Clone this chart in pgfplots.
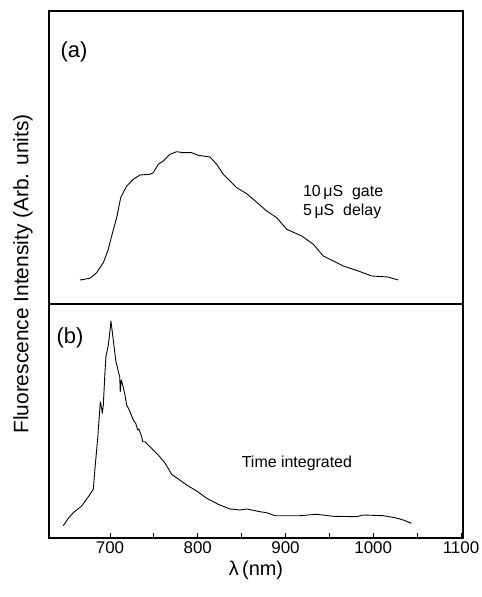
\documentclass[border=0pt]{standalone}
\usepackage{fontspec}
\setmainfont{Liberation Sans}
\usepackage{pgfplots}
\pgfplotsset{compat=1.18}
\begin{document}
\begin{tikzpicture}
\useasboundingbox (0,0) rectangle (482bp,597bp);
\pgfplotsset{
  panel/.style={
    scale only axis, width=414bp,
    xmin=630.5, xmax=1102.3,
    axis line style={line width=1.1pt},
    ytick=\empty,
    /pgf/number format/assume math mode=true,
    tick label style={font=\fontsize{17}{19}\selectfont},
  },
  curve/.style={black, line width=0.9pt, mark=none, line join=round},
}
% panel (b)
\begin{axis}[panel, at={(49bp,59bp)}, anchor=south west, height=234bp,
  ymin=0, ymax=234,
  xtick={700,800,900,1000,1100},
  minor xtick={750,850,950,1050},
  xtick pos=bottom, tick align=inside,
  major tick length=5bp, minor tick length=5bp,
  tick style={line width=0.9pt, black},
  /pgf/number format/set thousands separator={},
  xlabel={λ\,(nm)},
  xlabel style={font=\fontsize{20}{22}\selectfont, yshift=-1bp},
]
\addplot[curve] table {
646.8 12.3
652.5 19.7
658.2 25.3
667.7 32
674.1 39.7
681.0 48.7
682.9 69.7
686.0 99.7
687.5 118
689.0 136.3
690.5 129.7
691.2 124.7
692.4 133
694.3 166.3
695.4 181.3
698.1 193
700.3 209.7
701.1 217
702.6 206.3
704.9 189.7
706.8 176.3
708.3 171.3
709.5 166.3
711.1 161.3
711.7 146.3
712.9 158
714.5 153
717.1 143
719.0 133
722.8 126.3
726.6 118
729.3 114.7
731.6 108
733.0 109
736.1 101.3
737.3 96.3
739.9 96.3
745.6 91.3
755.0 83
762.7 75
770.3 63.7
787.4 53
798.8 47
810.2 39.7
823.4 33.7
836.8 29
848.1 28
855.8 29
870.9 26.3
878.6 25.3
888.0 22.3
916.5 22.3
935.6 23.7
954.5 21.7
981.1 21.3
988.7 23
1011.5 22.3
1024.8 20.3
1034.2 18
1043.7 14.7
};
\node[font=\fontsize{22}{24}\selectfont] at (axis cs:654.4,200) {(b)};
\node[font=\fontsize{16}{18}\selectfont] at (axis cs:913,75) {Time integrated};
\end{axis}
% panel (a)
\begin{axis}[panel, at={(49bp,293bp)}, anchor=south west, height=293bp,
  ymin=0, ymax=293,
  xtick=\empty,
]
\addplot[curve] table {
665.8 24
677.2 25.7
684.8 31.3
692.4 41.3
698.1 54.7
701.9 68
707.6 86.3
712.2 106.3
719.0 118
726.6 124.7
734.2 129
745.6 129.7
749.3 131.3
755.0 139.7
760.7 143
768.4 149.7
776.0 152.3
783.5 151.3
793.1 151.3
800.6 148.7
814.0 147
821.6 139.7
829.1 129.7
844.4 116.3
855.8 110.3
878.6 93
890.0 86.3
901.4 74.7
918.5 68
931.7 59.7
943.1 48
965.9 38
983.0 33
998.2 28
1016.7 27
1028.5 24
};
\node[font=\fontsize{22}{24}\selectfont] at (axis cs:659,252) {(a)};
\node[font=\fontsize{16}{19}\selectfont, align=left, anchor=west] at (axis cs:916,102) {10\,μS\ \ gate\\5\,μS\ \ delay};
\end{axis}
\node[rotate=90, font=\fontsize{21}{23}\selectfont] at (23bp,323bp) {Fluorescence Intensity (Arb. units)};
\end{tikzpicture}
\end{document}
